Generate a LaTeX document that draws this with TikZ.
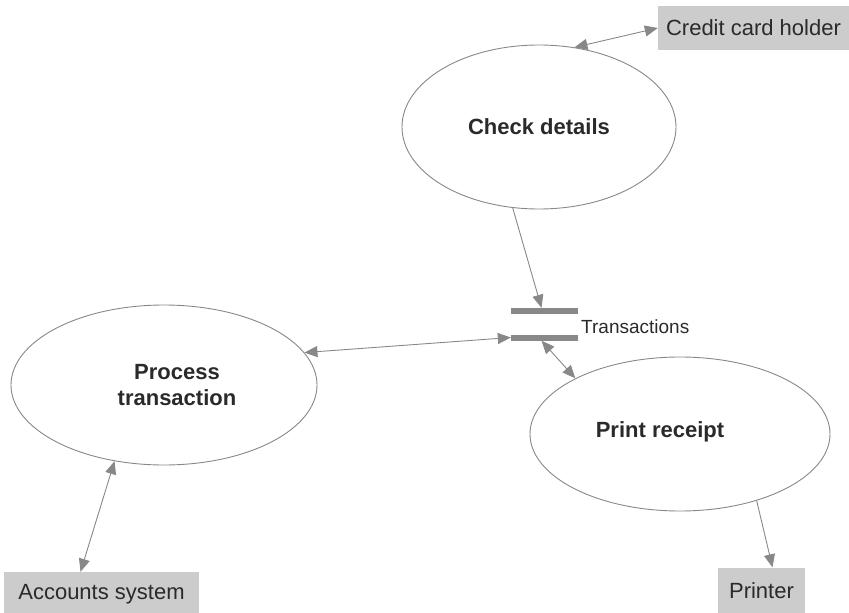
\documentclass[tikz,border=0pt]{standalone}
\usepackage{fontspec}
\setmainfont{Liberation Sans}
\usetikzlibrary{shapes.geometric,arrows.meta}
\definecolor{linegray}{HTML}{888888}
\definecolor{boxgray}{HTML}{CCCCCC}
\definecolor{textgray}{HTML}{2A2A2A}
\tikzset{
    process/.style = {draw=linegray, ellipse, line width=0.9pt, inner sep=0pt},
    process-label/.style = {inner sep=0pt, font=\fontsize{22}{26}\selectfont\bfseries, text=textgray, align=center},
    entity/.style = {fill=boxgray, rectangle, inner sep=0pt, font=\fontsize{22}{26}\selectfont, text=textgray},
    store-bar/.style = {fill=linegray, rectangle, inner sep=0pt, minimum width=67pt, minimum height=6pt},
    flow/.style = {draw=linegray, line width=0.9pt, -{Triangle[length=13pt,width=11pt]}},
    dflow/.style = {draw=linegray, line width=0.9pt, {Triangle[length=13pt,width=11pt]}-{Triangle[length=13pt,width=11pt]}},
}
\begin{document}
\begin{tikzpicture}[x=1pt,y=-1pt]
\useasboundingbox (0,0) rectangle (849,613);
% processes
\node[process, minimum width=274pt, minimum height=164pt] (check) at (539,127) {};
\node[process, minimum width=306pt, minimum height=160pt] (process) at (164,385) {};
\node[process, minimum width=300pt, minimum height=154pt] (print) at (680,434) {};
\node[process-label] (checklabel) at (check.center) {Check details};
\node[process-label] (processlabel) at ([xshift=13pt]process.center) {Process\\transaction};
\node[process-label] (printlabel) at ([xshift=-20pt,yshift=2pt]print.center) {Print receipt};
% external entities
\node[entity, minimum width=191pt, minimum height=44pt] (holder) at (753.5,28) {Credit card holder};
\node[entity, minimum width=195pt, minimum height=44pt] (accounts) at (101.5,594) {Accounts system};
\node[entity, minimum width=87pt, minimum height=46pt] (printer) at (761.5,590.5) {Printer};
% data store
\node[store-bar] (storetop) at (544.5,311) {};
\node[store-bar] (storebot) at (544.5,337.5) {};
\node[anchor=west, inner sep=0pt, font=\fontsize{19}{22}\selectfont, text=textgray] (storelabel) at (581,327) {Transactions};
% flows
\draw[dflow] (holder.west) -- (check.66);
\draw[flow] (check.252) -- ([xshift=-3pt]storetop.north);
\draw[dflow] (process.13) -- (storebot.west);
\draw[dflow] ([xshift=-3pt]storebot.south) -- (print.152);
\draw[dflow] (process.237) -- ([xshift=-21pt]accounts.north);
\draw[flow] (print.319) -- ([xshift=11pt]printer.north);
\end{tikzpicture}
\end{document}
